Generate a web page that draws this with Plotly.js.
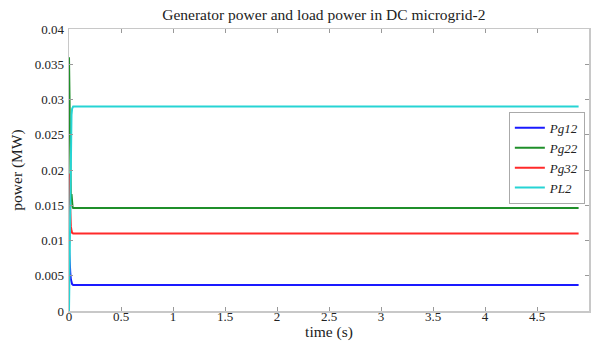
<!DOCTYPE html>
<html>
<head>
<meta charset="utf-8">
<script src="https://cdn.plot.ly/plotly-3.0.1.min.js"></script>
<style>html,body{margin:0;padding:0;background:#fff;}#chart{width:591px;height:341px;}</style>
</head>
<body>
<div id="chart"></div>
<script>
// time samples (s)
const tPg12 = [0, 0.004, 0.008, 0.012, 0.018, 0.024, 0.03, 0.04, 0.1, 0.5, 1, 2, 3, 4, 4.9];
const pg12  = [0.009, 0.0068, 0.0069, 0.0055, 0.0045, 0.004, 0.0038, 0.0037, 0.0037, 0.0037, 0.0037, 0.0037, 0.0037, 0.0037, 0.0037];

const tPg22 = [0, 0.004, 0.008, 0.012, 0.018, 0.024, 0.028, 0.034, 0.04, 0.1, 0.5, 1, 2, 3, 4, 4.9];
const pg22  = [0.036, 0.03, 0.024, 0.019, 0.016, 0.0166, 0.0155, 0.0148, 0.0146, 0.0146, 0.0146, 0.0146, 0.0146, 0.0146, 0.0146, 0.0146];

const tPg32 = [0, 0.006, 0.012, 0.018, 0.024, 0.03, 0.04, 0.06, 0.5, 1, 2, 3, 4, 4.9];
const pg32  = [0.0195, 0.016, 0.0135, 0.012, 0.0114, 0.0111, 0.011, 0.011, 0.011, 0.011, 0.011, 0.011, 0.011, 0.011];

const tPL2 = [0, 0.006, 0.012, 0.018, 0.024, 0.03, 0.04, 0.1, 0.5, 1, 2, 3, 4, 4.9];
const pl2  = [0, 0.006, 0.016, 0.024, 0.0278, 0.0287, 0.029, 0.029, 0.029, 0.029, 0.029, 0.029, 0.029, 0.029];

const names = ["Pg12", "Pg22", "Pg32", "PL2"];
const colors = ["#1a1aff", "#1f8f2a", "#ff2a2a", "#26d4d4"];

const xTicks = [0, 0.5, 1, 1.5, 2, 2.5, 3, 3.5, 4, 4.5, 5];
const yTicks = [0, 0.005, 0.01, 0.015, 0.02, 0.025, 0.03, 0.035, 0.04];
const yTickText = ["0", "0.005", "0.01", "0.015", "0.02", "0.025", "0.03", "0.035", "0.04"];

const series = [[tPg12, pg12], [tPg22, pg22], [tPg32, pg32], [tPL2, pl2]];
const traces = series.map((s, i) => ({
  x: s[0], y: s[1], name: names[i], type: "scatter", mode: "lines",
  line: {color: colors[i], width: 2}
}));

const FAM = "Liberation Serif";
const f = (size, extra) => Object.assign({family: FAM, size: size, color: "#222"}, extra || {});
const axisCommon = {
  showline: true, linecolor: "#c8c8c8", linewidth: 1.5, mirror: "ticks",
  ticks: "inside", ticklen: 4, tickcolor: "#999", tickwidth: 1,
  showgrid: false, zeroline: false,
  tickfont: f(13)
};

const layout = {
  width: 591, height: 341,
  margin: {l: 69, r: 2, t: 29, b: 30},
  paper_bgcolor: "#fff", plot_bgcolor: "#fff",
  font: f(13),
  title: {text: "Generator power and load power in DC microgrid-2", font: f(15.5), x: 0.548, xanchor: "center", y: 0.958, yanchor: "middle"},
  xaxis: Object.assign({}, axisCommon, {
    range: [0, 5], tickvals: xTicks, ticktext: xTicks.map(String),
    ticklabelstandoff: -7,
    title: {text: "time (s)", font: f(15.5), standoff: 0}
  }),
  yaxis: Object.assign({}, axisCommon, {
    range: [0, 0.04], tickvals: yTicks, ticktext: yTickText,
    ticklabelstandoff: 1,
    title: {text: "power (MW)", font: f(15.5), standoff: 8}
  }),
  showlegend: true,
  legend: {
    x: 0.992, xanchor: "right", y: 0.706, yanchor: "top",
    bgcolor: "#fff", bordercolor: "#aaa", borderwidth: 1,
    font: f(13, {style: "italic"}),
    itemwidth: 30, tracegroupgap: 0
  }
};

Plotly.newPlot("chart", traces, layout, {displayModeBar: false, staticPlot: true});
</script>
</body>
</html>
